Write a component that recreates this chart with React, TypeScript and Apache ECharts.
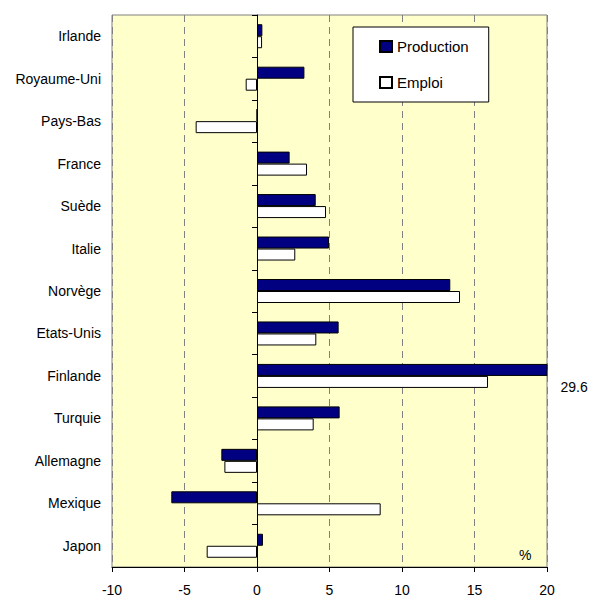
import React, { useEffect, useRef } from "react";
import * as echarts from "echarts";

const categories = [
  "Irlande",
  "Royaume-Uni",
  "Pays-Bas",
  "France",
  "Suède",
  "Italie",
  "Norvège",
  "Etats-Unis",
  "Finlande",
  "Turquie",
  "Allemagne",
  "Mexique",
  "Japon",
];
const production = [0.37, 3.27, 0, 2.25, 4.05, 4.97, 13.33, 5.63, 29.6, 5.7, -2.46, -5.91, 0.41];
const emploi = [0.35, -0.78, -4.23, 3.45, 4.76, 2.64, 14.0, 4.09, 15.93, 3.91, -2.25, 8.53, -3.47];
const xMin = -10;
const xMax = 20;
const xInterval = 5;
const unitLabel = "%";

const FONT = "'Liberation Sans', Arial, sans-serif";

export default function App() {
  const ref = useRef<HTMLDivElement>(null);
  useEffect(() => {
    if (!ref.current) return;
    const chart = echarts.init(ref.current, null, { renderer: "svg" });
    const prodData = production.map((v) =>
      v > xMax
        ? {
            value: v,
            label: {
              show: true,
              position: "right",
              distance: 13,
              offset: [0, 17],
              formatter: "{c}",
              fontSize: 14,
              color: "#000",
              fontFamily: FONT,
            },
          }
        : v
    );
    chart.setOption({
      animation: false,
      textStyle: { fontFamily: FONT },
      grid: {
        left: 112,
        right: 47,
        top: 15,
        bottom: 31,
        show: true,
        backgroundColor: "#FFFFCC",
        borderColor: "#808080",
        borderWidth: 1,
      },
      legend: {
        orient: "vertical",
        left: 353,
        top: 27,
        padding: [12, 20, 12, 26],
        itemGap: 21,
        itemWidth: 12,
        itemHeight: 11,
        icon: "rect",
        backgroundColor: "#fff",
        borderColor: "#000",
        borderWidth: 1,
        borderRadius: 0,
        textStyle: { fontSize: 15, color: "#000", fontFamily: FONT },
        data: ["Production", "Emploi"],
      },
      xAxis: {
        type: "value",
        min: xMin,
        max: xMax,
        interval: xInterval,
        axisLine: { show: true, onZero: false, lineStyle: { color: "#000", width: 1 } },
        axisTick: { show: true, length: 5, lineStyle: { color: "#000" } },
        axisLabel: { fontSize: 14, color: "#000", margin: 16, fontFamily: FONT },
        splitLine: { show: true, lineStyle: { color: "#808080", type: [7, 5], width: 1 } },
      },
      yAxis: [
        {
          type: "category",
          data: categories,
          inverse: true,
          position: "left",
          axisLine: { show: false, onZero: false },
          axisTick: { show: false },
          axisLabel: { fontSize: 14, color: "#000", margin: 11, fontFamily: FONT },
          splitLine: { show: false },
        },
        {
          type: "category",
          data: categories,
          inverse: true,
          position: "left",
          axisLine: { show: true, onZero: true, lineStyle: { color: "#000", width: 1 } },
          axisTick: { show: true, length: 5, lineStyle: { color: "#000" } },
          axisLabel: { show: false },
          splitLine: { show: false },
        },
      ],
      graphic: [
        {
          type: "text",
          left: 519,
          top: 548,
          style: { text: unitLabel, fontSize: 14, fill: "#000", fontFamily: FONT },
        },
      ],
      series: [
        {
          name: "Production",
          type: "bar",
          yAxisIndex: 0,
          data: prodData,
          barWidth: 12,
          barGap: "0%",
          itemStyle: { color: "#000080", borderColor: "#000", borderWidth: 1 },
        },
        {
          name: "Emploi",
          type: "bar",
          yAxisIndex: 0,
          data: emploi,
          barWidth: 12,
          barGap: "0%",
          itemStyle: { color: "#ffffff", borderColor: "#000", borderWidth: 1 },
        },
      ],
    });
    return () => chart.dispose();
  }, []);
  return (
    <div
      ref={ref}
      style={{ position: "fixed", left: 0, top: 0, width: 594, height: 598, background: "#fff" }}
    />
  );
}
